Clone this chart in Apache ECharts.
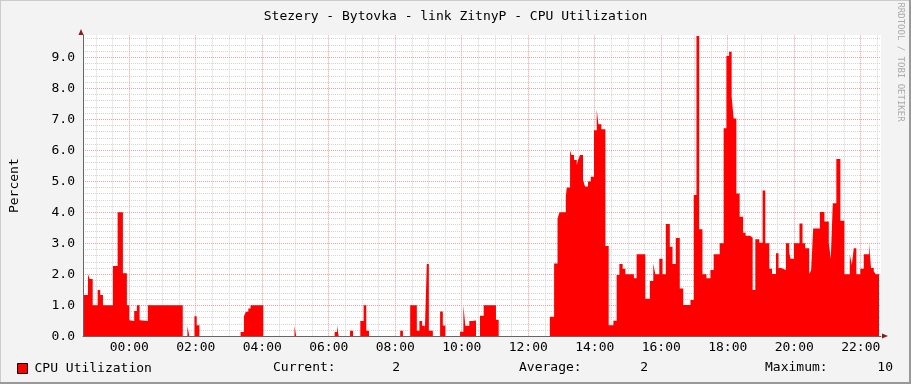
<!DOCTYPE html>
<html><head><meta charset="utf-8">
<script src="https://cdn.jsdelivr.net/npm/echarts@6/dist/echarts.min.js"></script>
<style>html,body{margin:0;padding:0;background:#f3f3f3}#c{width:911px;height:384px}</style>
</head><body><div id="c"></div>
<script>
const chartTitle = 'Stezery - Bytovka - link ZitnyP - CPU Utilization';
const seriesName = 'CPU Utilization';
const yAxisName = 'Percent';
const watermark = 'RRDTOOL / TOBI OETIKER';
// minutes relative to 00:00 (negative = previous evening); value holds until next time
const times = [-83.4,-82.2,-74.4,-71.3,-65.9,-56.9,-52.3,-47.4,-29.4,-20.9,-11.4,-4.2,0,3.6,9.0,13.8,18.7,21.6,33.6,96.6,105.0,108.6,117.7,121.8,126.7,
201.0,207.0,210.5,214.9,219.0,241.9,298.2,301.3,370.7,375.0,378.0,398.5,403.9,417.0,423.0,427.8,432.7,489.0,493.9,507.0,519.0,523.7,528.6,533.5,537.0,540.7,547.9,
561.0,565.9,570.5,597.0,603.0,606.5,613.7,618.6,625.8,633.0,639.7,661.8,666.7,
759.0,766.7,772.9,776.5,787.8,789.6,795.5,798.0,802.7,807.6,810.0,813.5,818.9,822.5,827.9,832.8,838.7,843.6,846.7,852.0,859.3,865.2,873.7,879.6,884.5,890.4,895.3,
910.7,915.6,931.3,939.5,945.7,949.3,956.5,962.4,968.3,975.5,980.4,986.3,993.5,999.7,1012.8,1018.7,1023.6,1028.5,1034.4,1041.6,1048.8,1054.7,1065.5,1072.7,1077.6,
1082.5,1087.1,1090.7,1095.6,1101.5,1107.7,1112.3,1120.3,1125.0,1129.8,1137.0,1143.0,1147.8,1155.0,1159.9,1167.1,1171.7,1176.6,1185.0,1191.0,1193.3,1199.5,1209.5,
1215.0,1219.8,1227.0,1230.6,1234.2,1246.3,1254.5,1262.4,1266.0,1269.6,1276.0,1283.3,1290.5,1300.3,1303.9,1307.5,1312.1,1319.3,1325.5,1335.0,1338.6,1343.5,1347.0,1353.0];
const values = [1.0,1.33,2.0,1.85,1.0,1.49,1.33,1.0,2.27,4.0,2.03,1.0,0.52,0.49,0.82,1.0,0.52,0.49,1.0,0,0.33,0,0.65,0.36,0,
0.14,0.65,0.79,0.9,1.0,0,0.33,0,0.14,0.36,0,0.18,0,0.49,1.0,0.18,0,0.18,0,1.0,0.18,0.49,0.34,0.18,2.33,0.18,0,
0.8,0.35,0,0.15,1.0,0.34,0.49,0.51,0,0.66,1.0,0.53,0,
0.63,2.35,3.8,4.0,4.5,4.8,6.0,5.85,5.69,5.53,5.69,5.85,5.04,4.83,4.99,5.15,6.65,7.32,6.84,6.68,2.91,0.36,0.5,1.98,2.33,2.18,2.0,
1.87,2.65,1.21,1.78,2.35,2.0,2.5,2.0,3.62,2.89,2.33,3.17,1.54,1.01,1.17,4.56,9.69,3.45,2.0,1.87,2.14,2.65,3.0,6.71,9.04,
9.18,7.73,7.03,4.61,3.86,3.34,3.24,3.19,1.49,3.13,3.02,4.7,3.0,2.18,2.01,2.68,2.2,2.14,3.0,2.7,2.5,3.0,3.64,
3.0,2.84,2.0,2.14,3.48,4.01,3.7,3.0,2.5,4.29,5.72,3.73,2.0,2.65,2.3,2.84,2.0,2.18,2.65,3.0,2.2,2.1,2.0,2.0];
const xTickMinutes = [0,120,240,360,480,600,720,840,960,1080,1200,1320];
const xTickLabels = ['00:00','02:00','04:00','06:00','08:00','10:00','12:00','14:00','16:00','18:00','20:00','22:00'];
const yTickValues = [0,1,2,3,4,5,6,7,8,9];
const statLabels = ['Current:','Average:','Maximum:'];
const statValues = ['2','2','10'];
const xMin = -83.4, xMax = 1356.6, yMax = 9.72;

const FONT = 'DejaVu Sans Mono';
const data = times.map((t, i) => [t, values[i]]);

// grid lines
const gridLines = [];
for (let m = -60; m <= 1350; m += 30) {
  if (m % 120 !== 0) gridLines.push({xAxis: m, lineStyle: {color: '#d4d4d4', type: [1, 1], width: 1}});
}
for (let v = 0.2; v < yMax; v += 0.2) {
  const r = Math.round(v * 10) / 10;
  if (Math.abs(r - Math.round(r)) > 1e-6) gridLines.push({yAxis: r, lineStyle: {color: '#d4d4d4', type: [1, 1], width: 1}});
}
xTickMinutes.forEach(m => gridLines.push({xAxis: m, lineStyle: {color: '#eea0a0', type: [1, 1], width: 1}}));
yTickValues.slice(1).forEach(v => gridLines.push({yAxis: v, lineStyle: {color: '#eea0a0', type: [1, 1], width: 1}}));

const chart = echarts.init(document.getElementById('c'), null, {renderer: 'canvas'});
const statGraphics = [];
const statLabelX = [273, 519, 765];
const statValueX = [400, 648, 893];
statLabels.forEach((s, i) => {
  statGraphics.push({type: 'text', left: statLabelX[i], top: 361, style: {text: s, font: '13px ' + FONT, fill: '#000'}});
  statGraphics.push({type: 'text', right: 911 - statValueX[i], top: 361, style: {text: statValues[i], font: '13px ' + FONT, fill: '#000', align: 'right'}});
});

chart.setOption({
  backgroundColor: '#f3f3f3',
  animation: false,
  title: {text: chartTitle, left: 'center', top: 5, textStyle: {fontFamily: FONT, fontSize: 13, fontWeight: 'normal', color: '#000'}},
  grid: {left: 81, top: 35, width: 800, height: 301.3, backgroundColor: '#fff', show: true, borderWidth: 0},
  legend: {data: [seriesName], left: 17, top: 362, padding: 0, icon: 'rect', itemWidth: 10, itemHeight: 10, itemGap: 6,
    textStyle: {fontFamily: FONT, fontSize: 13, color: '#000', padding: [0, 0, 0, 2]},
    itemStyle: {borderColor: '#000', borderWidth: 1}},
  xAxis: {type: 'value', min: xMin, max: xMax, z: 10,
    axisLine: {show: true, onZero: false, lineStyle: {color: '#666', width: 1}},
    axisTick: {show: false}, splitLine: {show: false},
    axisLabel: {customValues: xTickMinutes, margin: 5, fontFamily: FONT, fontSize: 13, color: '#000',
      formatter: v => xTickLabels[xTickMinutes.indexOf(Math.round(v))] || ''}},
  yAxis: {type: 'value', min: 0, max: yMax, interval: 1, z: 10,
    name: yAxisName, nameLocation: 'middle', nameGap: 62, nameRotate: 90,
    nameTextStyle: {fontFamily: FONT, fontSize: 13, color: '#000'},
    axisLine: {show: true, onZero: false, lineStyle: {color: '#666', width: 1}},
    axisTick: {show: false}, splitLine: {show: false},
    axisLabel: {margin: 8, fontFamily: FONT, fontSize: 13, color: '#000', showMaxLabel: false,
      formatter: v => (yTickValues.indexOf(v) >= 0 ? v.toFixed(1) : '')}},
  series: [
    {type: 'line', name: 'grid', data: [], z: 1, silent: true, symbol: 'none',
      markLine: {z: 1, silent: true, symbol: ['none', 'none'], label: {show: false}, animation: false, data: gridLines}},
    {type: 'line', name: seriesName, data: data, step: 'end', z: 3, symbol: 'none', showSymbol: false,
      lineStyle: {width: 0, color: '#ff0000'}, itemStyle: {color: '#ff0000'},
      areaStyle: {color: '#ff0000', opacity: 1}}
  ],
  graphic: [
    {type: 'rect', shape: {x: 0, y: 0, width: 911, height: 384}, style: {fill: 'none', stroke: '#cbcbcb', lineWidth: 2}, z: 100, silent: true},
    {type: 'polyline', shape: {points: [[910, 0], [910, 383], [0, 383]]}, style: {fill: 'none', stroke: '#999', lineWidth: 2}, z: 101, silent: true},
    {type: 'polygon', shape: {points: [[78.5, 35], [83.5, 35], [81, 29]]}, style: {fill: '#8b1a1a'}, z: 50, silent: true},
    {type: 'polygon', shape: {points: [[882, 333.5], [882, 338.5], [888, 336]]}, style: {fill: '#8b1a1a'}, z: 50, silent: true},
    {type: 'text', x: 900, y: 62, rotation: -Math.PI / 2, style: {text: watermark, font: '9px ' + FONT, fill: '#aaa', align: 'center', verticalAlign: 'middle'}, z: 50, silent: true}
  ].concat(statGraphics)
});
</script></body></html>
